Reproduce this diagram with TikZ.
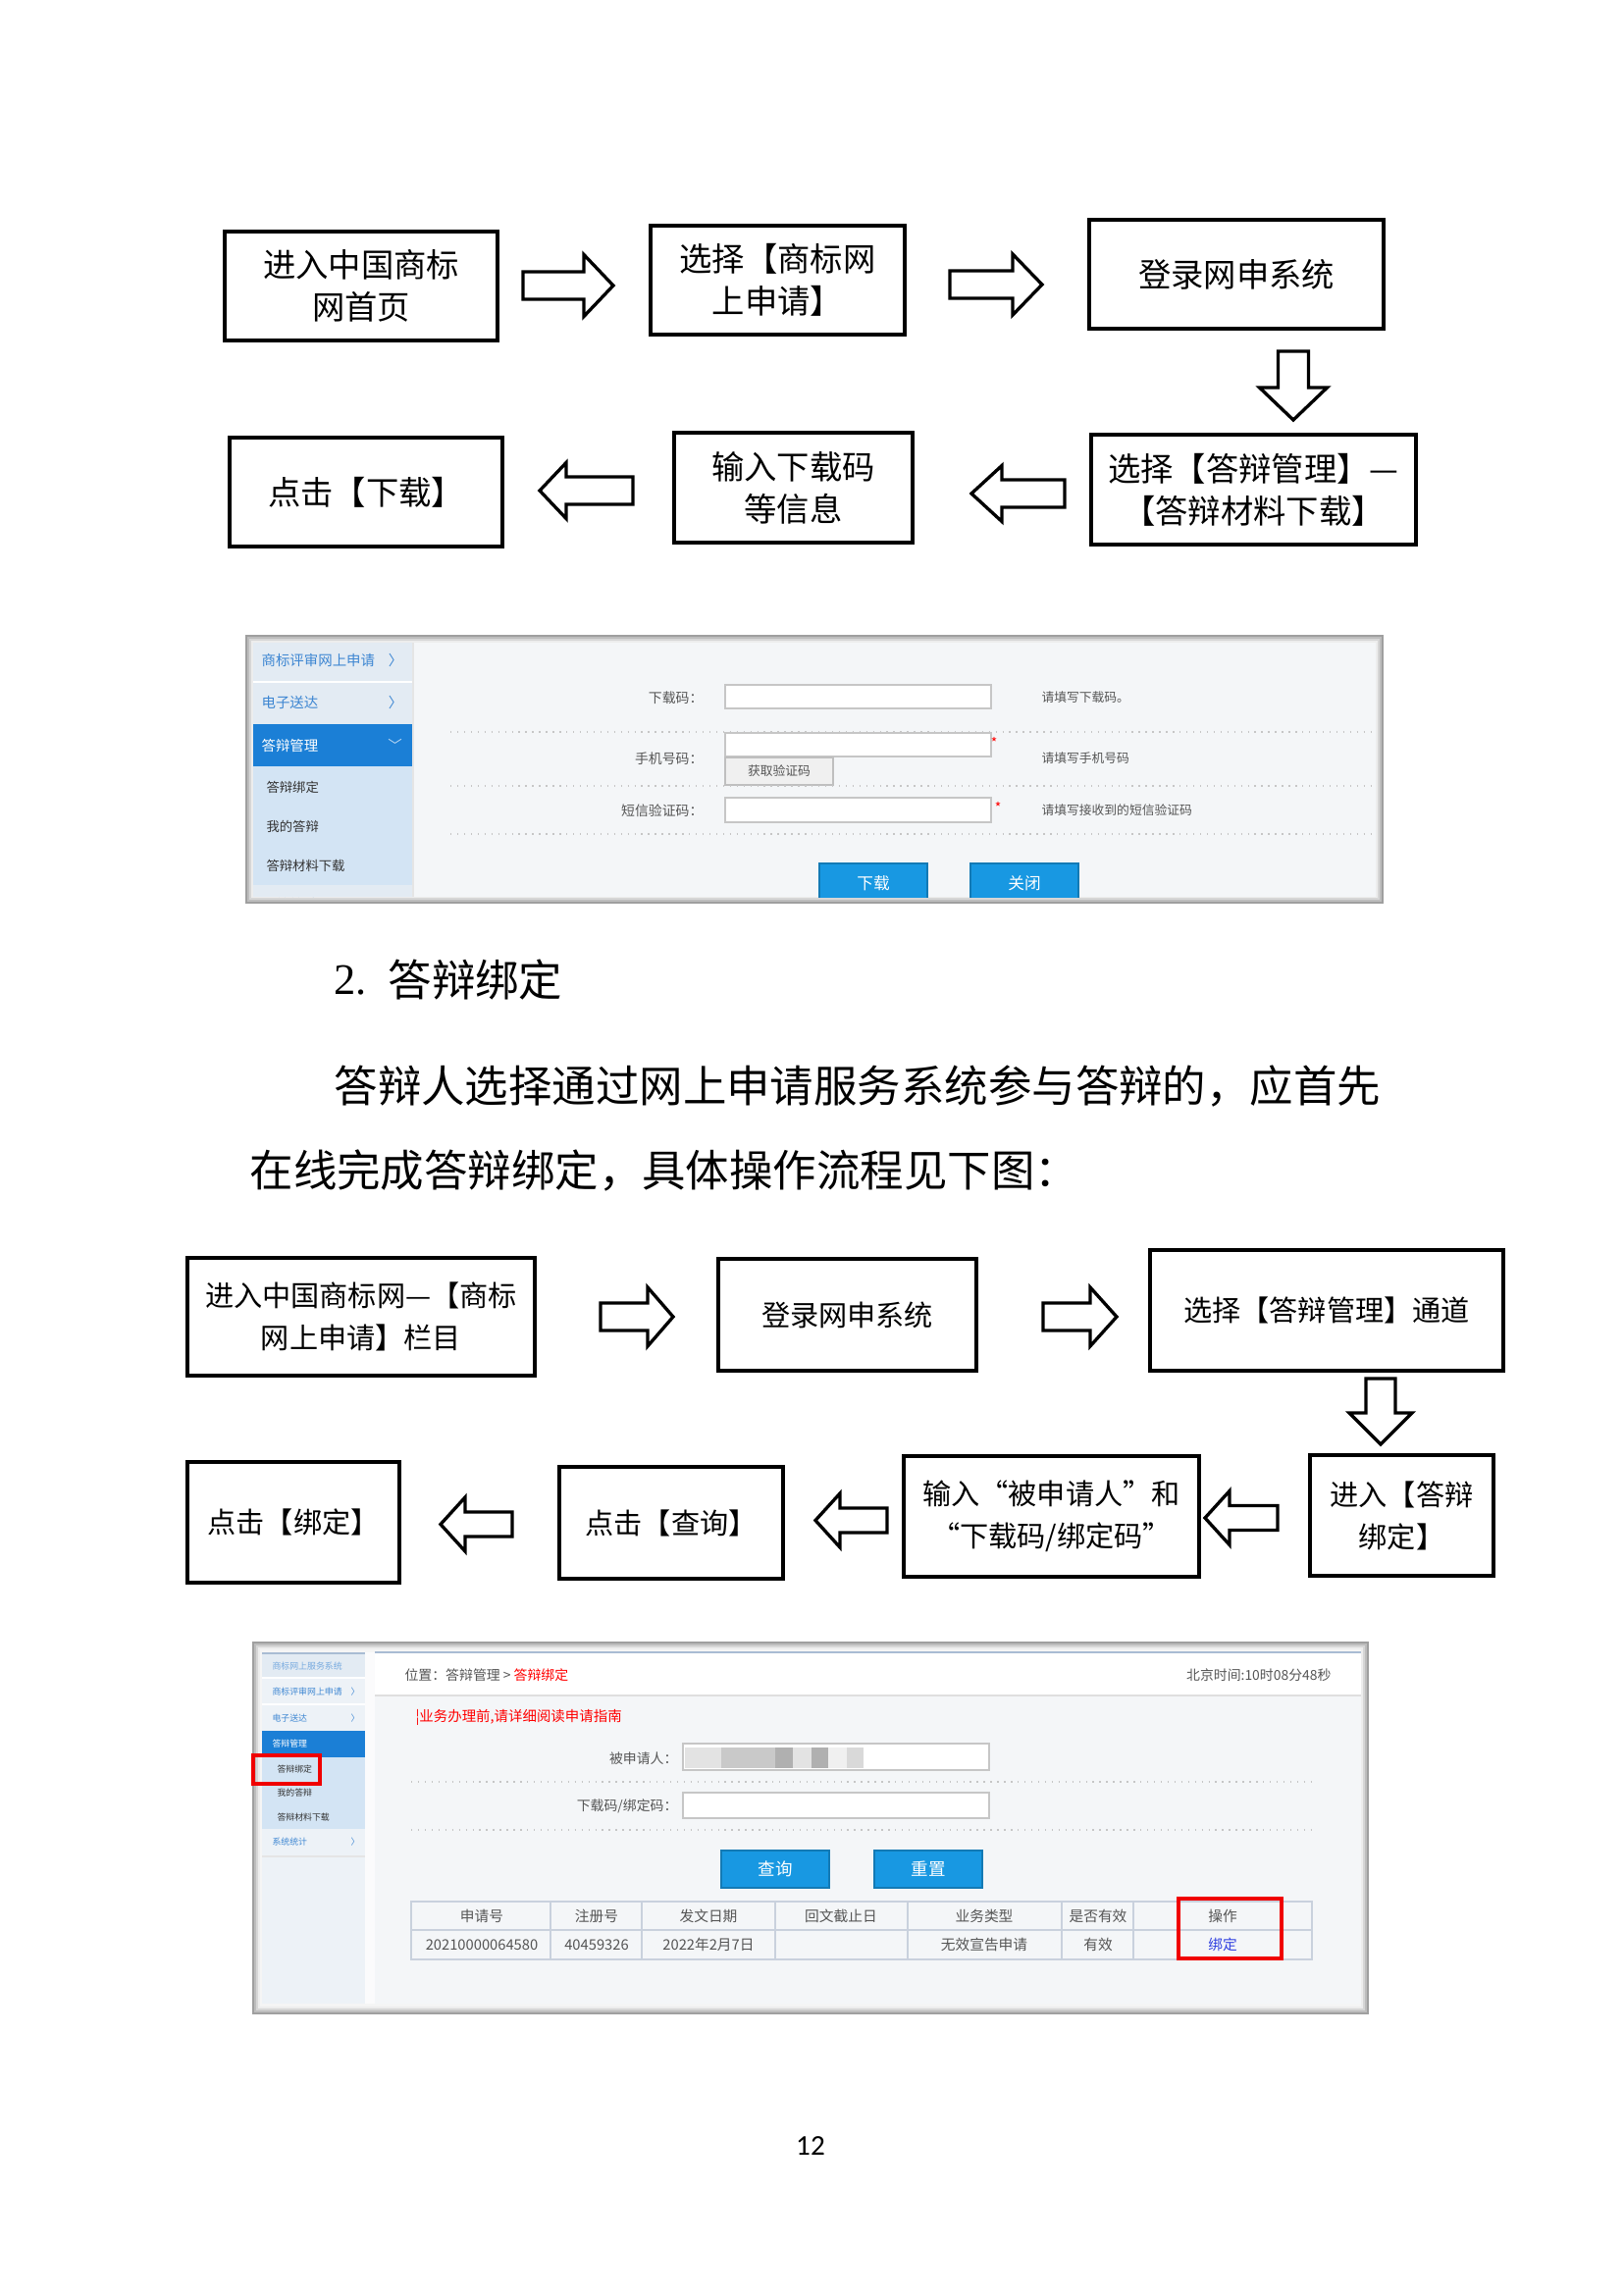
\documentclass[tikz,border=0pt]{standalone}
\usepackage{fontspec}
\setmainfont{Liberation Serif}
\newfontfamily\cjk{Noto Sans CJK SC}
\newfontfamily\pnfont{Carlito}
\usetikzlibrary{calc}
\definecolor{sbblue}{HTML}{1B7FD6}
\definecolor{sblight}{HTML}{D3E4F4}
\definecolor{sbtop}{HTML}{E3EBF3}
\definecolor{sbpale}{HTML}{EDF2F7}
\definecolor{linkblue}{HTML}{3D86D2}
\definecolor{mainbg}{HTML}{F4F6F8}
\definecolor{btnblue}{HTML}{1898E2}
\definecolor{txtgray}{HTML}{555555}
\definecolor{tblc}{HTML}{C9D1DD}
\definecolor{hdrline}{HTML}{A9BCD3}
\definecolor{bindblue}{HTML}{3040E0}
\definecolor{redbox}{HTML}{F00000}
\newcommand{\HArrow}[7]{\coordinate (#1) at ({(#2+#3)/2},#5);
  \draw[barrow] (#2,#5-#6) -- (#4,#5-#6) -- (#4,#5-#7) -- (#3,#5) -- (#4,#5+#7) -- (#4,#5+#6) -- (#2,#5+#6) -- cycle;}
\newcommand{\VArrow}[7]{\coordinate (#1) at (#5,{(#2+#3)/2});
  \draw[barrow] (#5-#6,#2) -- (#5-#6,#4) -- (#5-#7,#4) -- (#5,#3) -- (#5+#7,#4) -- (#5+#6,#4) -- (#5+#6,#2) -- cycle;}
\newcommand{\ShotFrame}[4]{%
  \fill[gray!75] (#1,#2) rectangle (#3,#4);
  \fill[gray!52] (#1+2,#2+2) rectangle (#3-2,#4-2);
  \fill[gray!32] (#1+4,#2+4) rectangle (#3-4,#4-4);
  \fill[gray!14] (#1+6,#2+6) rectangle (#3-6,#4-6);}
\begin{document}
\begin{tikzpicture}[x=0.36pt,y=-0.36pt,
  fbox/.style={draw, line width=1.25pt, inner sep=0pt, align=center, fill=white},
  fone/.style={fbox, font={\cjk\fontsize{12}{15.5}\selectfont}},
  ftwo/.style={fbox, font={\cjk\fontsize{10.5}{15.5}\selectfont}},
  barrow/.style={draw, line width=1.2pt, fill=white, line join=miter},
  st/.style={inner sep=0pt, text=txtgray, font={\cjk\fontsize{5}{6}\selectfont}},
  sbt/.style={inner sep=0pt, text=linkblue, font={\cjk\fontsize{5.2}{6}\selectfont}},
  sbs/.style={inner sep=0pt, text=black!80, font={\cjk\fontsize{4.8}{6}\selectfont}},
  tiny/.style={inner sep=0pt, font={\cjk\fontsize{3.2}{4}\selectfont}},
  inp/.style={fill=white, draw=gray!45, line width=0.5pt},
  btn/.style={fill=btnblue, draw=btnblue!80!black, line width=0.4pt},
  btxt/.style={inner sep=0pt, text=white, font={\cjk\fontsize{6}{7}\selectfont}},
  dotl/.style={gray!45, dotted, line width=0.5pt},
  para/.style={inner sep=0pt, anchor=west, font={\cjk\fontsize{16}{20}\selectfont}}]
\useasboundingbox (0,0) rectangle (1654,2339);
\fill[white] (0,0) rectangle (1654,2339);

% ---------- Flowchart 1 ----------
\node[fone, minimum width=278*0.36pt, minimum height=111*0.36pt] (A) at (368,291.5) {进入中国商标\\网首页};
\node[fone, minimum width=259*0.36pt, minimum height=111*0.36pt] (B) at (792.5,285.5) {选择【商标网\\上申请】};
\node[fone, minimum width=300*0.36pt, minimum height=111*0.36pt] (C) at (1260,279.5) {登录网申系统};
\node[fone, minimum width=331*0.36pt, minimum height=112*0.36pt] (D) at (1277.5,499) {选择【答辩管理】—\\【答辩材料下载】};
\node[fone, minimum width=243*0.36pt, minimum height=112*0.36pt] (E) at (808.5,497) {输入下载码\\等信息};
\node[fone, minimum width=278*0.36pt, minimum height=111*0.36pt] (F) at (373,501.5) {点击【下载】};

\HArrow{a1}{533}{625}{595}{291}{14}{31.5}
\HArrow{a2}{968}{1062}{1032}{290}{14}{31}
\VArrow{a3}{358}{428}{395}{1318}{15.5}{34.5}
\HArrow{a4}{1085}{990}{1021}{503}{14}{28.5}
\HArrow{a5}{645}{550}{577}{500}{14}{28.5}

% ---------- Screenshot 1 ----------
\ShotFrame{250}{647}{1410}{921}
\begin{scope}
\clip (258,655) rectangle (1402,914);
\fill[mainbg] (258,655) rectangle (1402,914);
\fill[sbtop] (258,655) rectangle (420,738);
\draw[white, line width=0.8pt] (258,695) -- (420,695);
\fill[sbblue] (258,738) rectangle (420,781);
\fill[sblight] (258,781) rectangle (420,902);
\fill[sbtop] (258,902) rectangle (420,914);
\draw[gray!20] (421,655) -- (421,914);
\node[sbt, anchor=west] (s1a) at (266,673) {商标评审网上申请};
\node[sbt, anchor=center] (s1ac) at (403,673) {〉};
\node[sbt, anchor=west] (s1b) at (266,716) {电子送达};
\node[sbt, anchor=center] (s1bc) at (403,716) {〉};
\node[sbt, anchor=west, text=white] (s1c) at (266,760) {答辩管理};
\node[sbt, anchor=center, text=white!70!sbblue, rotate=-90] (s1cc) at (403,760) {〉};
\node[sbs, anchor=west] (s1d) at (271,802) {答辩绑定};
\node[sbs, anchor=west] (s1e) at (271,842) {我的答辩};
\node[sbs, anchor=west] (s1f) at (271,882) {答辩材料下载};
\node[sbt, anchor=west] (s1g) at (266,922) {系统统计};
% form
\node[st, anchor=east] (l1) at (717,711) {下载码：};
\node[st, anchor=east] (l2) at (717,773) {手机号码：};
\node[st, anchor=east] (l3) at (717,826) {短信验证码：};
\draw[inp] (739,698) rectangle (1010,722);
\draw[inp] (739,747) rectangle (1010,771);
\draw[inp] (739,813) rectangle (1010,838);
\draw[fill=gray!12, draw=gray!50, line width=0.5pt] (739,772) rectangle (849,800);
\node[st, font={\cjk\fontsize{4.6}{6}\selectfont}] (gb) at (794,786) {获取验证码};
\node[st, text=red, font={\cjk\fontsize{5}{6}\selectfont}] (ast1) at (1013,757) {*};
\node[st, text=red, font={\cjk\fontsize{5}{6}\selectfont}] (ast2) at (1017,823) {*};
\node[st, anchor=west, font={\cjk\fontsize{4.6}{6}\selectfont}] (h1) at (1061,711) {请填写下载码。};
\node[st, anchor=west, font={\cjk\fontsize{4.6}{6}\selectfont}] (h2) at (1061,773) {请填写手机号码};
\node[st, anchor=west, font={\cjk\fontsize{4.6}{6}\selectfont}] (h3) at (1061,826) {请填写接收到的短信验证码};
\draw[dotl] (459,746) -- (1402,746);
\draw[dotl] (459,801) -- (1402,801);
\draw[dotl] (459,850) -- (1402,850);
\draw[btn] (835,880) rectangle (945,930);
\draw[btn] (989,880) rectangle (1099,930);
\node[btxt] (bt1) at (890,900) {下载};
\node[btxt] (bt2) at (1044,900) {关闭};
\end{scope}

% ---------- Heading and paragraph ----------
\node[inner sep=0pt, anchor=west, font=\fontsize{16}{20}\selectfont] (h2n) at (340,999) {2.};
\node[para] (h2t) at (395,999) {答辩绑定};
\node[para] (p1) at (340,1107) {答辩人选择通过网上申请服务系统参与答辩的，应首先};
\node[para] (p2) at (254,1193) {在线完成答辩绑定，具体操作流程见下图：};

% ---------- Flowchart 2 ----------
\node[ftwo, minimum width=354*0.36pt, minimum height=120*0.36pt] (G) at (368,1342) {进入中国商标网—【商标\\网上申请】栏目};
\node[ftwo, minimum width=263*0.36pt, minimum height=114*0.36pt] (H) at (863.5,1340) {登录网申系统};
\node[ftwo, minimum width=360*0.36pt, minimum height=123*0.36pt] (I) at (1352,1335.5) {选择【答辩管理】通道};
\node[ftwo, minimum width=187*0.36pt, minimum height=123*0.36pt] (J) at (1428.5,1544.5) {进入【答辩\\绑定】};
\node[ftwo, minimum width=301*0.36pt, minimum height=123*0.36pt] (K) at (1071.5,1545.5) {输入“被申请人”和\\“下载码/绑定码”};
\node[ftwo, minimum width=228*0.36pt, minimum height=114*0.36pt] (L) at (684,1552) {点击【查询】};
\node[ftwo, minimum width=216*0.36pt, minimum height=123*0.36pt] (M) at (299,1551.5) {点击【绑定】};

\HArrow{b1}{612}{686}{660}{1342}{14}{30}
\HArrow{b2}{1063}{1138}{1111}{1342}{14}{30}
\VArrow{b3}{1405}{1472}{1440}{1407}{15}{32}
\HArrow{b4}{1302}{1228}{1253}{1547}{12.5}{27.5}
\HArrow{b5}{904}{831}{856}{1549.5}{12.5}{27.5}
\HArrow{b6}{522}{449}{474}{1553.5}{12.5}{27.5}

% ---------- Screenshot 2 ----------
\ShotFrame{257}{1673}{1395}{2053}
\begin{scope}
\clip (265,1681) rectangle (1387,2045);
\fill[gray!8] (265,1681) rectangle (1387,2045);
% sidebar
\fill[sbpale] (267,1684) rectangle (372,2042);
\fill[sbtop] (267,1685) rectangle (372,1710);
\draw[hdrline, line width=0.6pt] (267,1685) -- (372,1685);
\draw[white, line width=0.6pt] (267,1710) -- (372,1710);
\draw[white, line width=0.6pt] (267,1737) -- (372,1737);
\fill[sbblue] (267,1764) rectangle (372,1791);
\fill[sblight] (267,1791) rectangle (372,1864);
\draw[gray!20, line width=0.5pt] (267,1892) -- (372,1892);
\node[tiny, anchor=west, text=linkblue!70] (t1) at (277,1698) {商标网上服务系统};
\node[tiny, anchor=west, text=linkblue] (t2) at (277,1724) {商标评审网上申请};
\node[tiny, text=linkblue] (t2c) at (362,1724) {〉};
\node[tiny, anchor=west, text=linkblue] (t3) at (277,1751) {电子送达};
\node[tiny, text=linkblue] (t3c) at (362,1751) {〉};
\node[tiny, anchor=west, text=white] (t4) at (277,1777) {答辩管理};
\node[tiny, anchor=west, text=black!80] (t5) at (282,1803) {答辩绑定};
\node[tiny, anchor=west, text=black!80] (t6) at (282,1827) {我的答辩};
\node[tiny, anchor=west, text=black!80] (t7) at (282,1852) {答辩材料下载};
\node[tiny, anchor=west, text=linkblue] (t8) at (277,1877) {系统统计};
\node[tiny, text=linkblue] (t8c) at (362,1877) {〉};
% main
\fill[white!60!mainbg] (372,1684) rectangle (382,2042);
\fill[white] (382,1684) rectangle (1387,1728);
\draw[hdrline, line width=0.8pt] (382,1684) -- (1387,1684);
\draw[gray!25, line width=0.8pt] (382,1728) -- (1387,1728);
\fill[mainbg] (382,1729) rectangle (1387,2042);
\node[st, anchor=west] (pos) at (412,1707) {位置：答辩管理 > \textcolor{red}{答辩绑定}};
\node[st, anchor=east] (time) at (1357,1707) {北京时间:10时08分48秒};
\node[st, anchor=west, text=red, font={\cjk\fontsize{5.2}{6}\selectfont}] (warn) at (423,1750) {¦业务办理前,请详细阅读申请指南};
\node[st, anchor=east] (lb1) at (691,1792) {被申请人：};
\node[st, anchor=east] (lb2) at (691,1841) {下载码/绑定码：};
\draw[inp] (696,1777) rectangle (1008,1804);
\fill[gray!22] (698,1781) rectangle (735,1802);
\fill[gray!42] (735,1781) rectangle (790,1802);
\fill[gray!62] (790,1781) rectangle (808,1802);
\fill[gray!22] (808,1781) rectangle (827,1802);
\fill[gray!62] (827,1781) rectangle (844,1802);
\fill[gray!12] (844,1781) rectangle (863,1802);
\fill[gray!30] (863,1781) rectangle (880,1802);
\draw[inp] (696,1827) rectangle (1008,1853);
\draw[dotl] (419,1816) -- (1337,1816);
\draw[dotl] (419,1865) -- (1337,1865);
\draw[btn] (735,1886) rectangle (845,1924);
\draw[btn] (891,1886) rectangle (1001,1924);
\node[btxt, font={\cjk\fontsize{6.3}{7}\selectfont}] (q) at (790,1905) {查询};
\node[btxt, font={\cjk\fontsize{6.3}{7}\selectfont}] (r) at (946,1905) {重置};
% table
\draw[tblc, line width=0.8pt] (419,1938) rectangle (1337,1997);
\draw[tblc, line width=0.6pt] (419,1967) -- (1337,1967);
\foreach \cx in {561,654,790,925,1082,1155}{\draw[tblc, line width=0.6pt] (\cx,1938) -- (\cx,1997);}
\begin{scope}[every node/.style={st, font={\cjk\fontsize{5.3}{6}\selectfont}}]
\node (c1) at (491,1953) {申请号};
\node (c2) at (608,1953) {注册号};
\node (c3) at (722,1953) {发文日期};
\node (c4) at (857,1953) {回文截止日};
\node (c5) at (1003,1953) {业务类型};
\node (c6) at (1119,1953) {是否有效};
\node (c7) at (1246,1953) {操作};
\node (d1) at (491,1982) {20210000064580};
\node (d2) at (608,1982) {40459326};
\node (d3) at (722,1982) {2022年2月7日};
\node (d5) at (1003,1982) {无效宣告申请};
\node (d6) at (1119,1982) {有效};
\node[text=bindblue] (d7) at (1246,1982) {绑定};
\end{scope}
\draw[redbox, line width=1.4pt] (1201,1935) rectangle (1306,1996);
\end{scope}
\draw[redbox, line width=1.3pt] (258,1789) rectangle (326,1818);

% ---------- Page number ----------
\node[inner sep=0pt, font={\pnfont\fontsize{10.5}{12}\selectfont}] (pn) at (826,2187) {12};
\end{tikzpicture}
\end{document}
